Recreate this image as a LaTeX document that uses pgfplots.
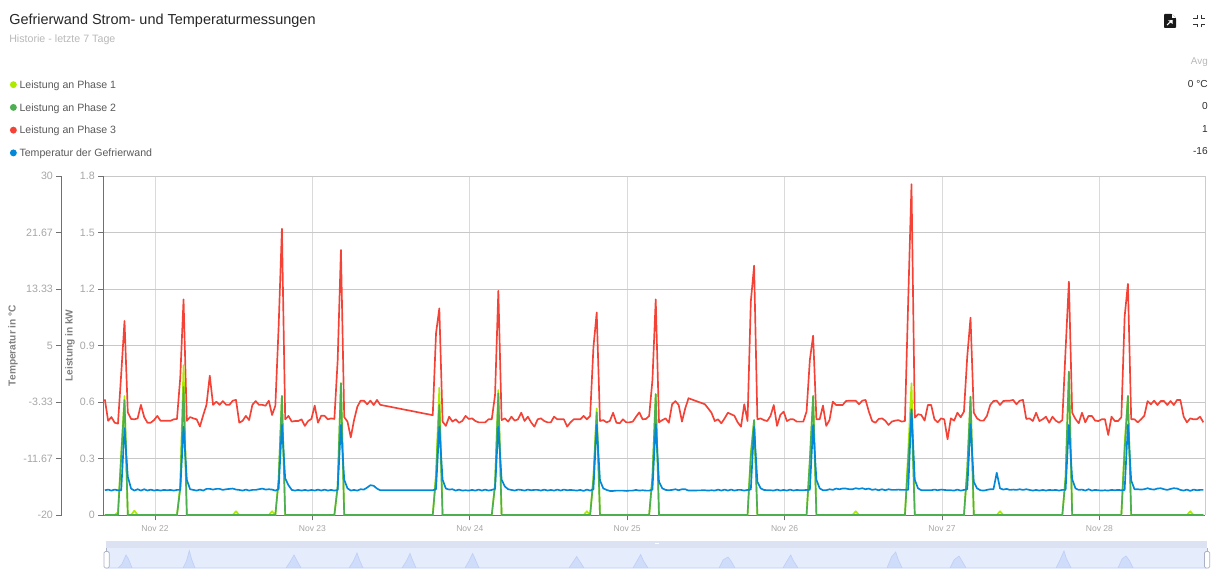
\documentclass[border=0pt]{standalone}
\usepackage{fontspec}
\setmainfont{Liberation Sans}
\usepackage{pgfplots}
\usepackage{pgfplotstable}
\pgfplotsset{compat=1.18}
\definecolor{clime}{HTML}{AEEA00}
\definecolor{cgreen}{HTML}{4CAF50}
\definecolor{cred}{HTML}{F44336}
\definecolor{cblue}{HTML}{0288D9}
\definecolor{tickgray}{HTML}{A6A6A6}
\definecolor{axisgray}{HTML}{707070}
\definecolor{navbg}{HTML}{E5ECFB}
\definecolor{navtop}{HTML}{DCE2F1}
\definecolor{navfill}{HTML}{CFDCFA}
\definecolor{navline}{HTML}{BFD0F7}
\definecolor{navhandle}{HTML}{AAB2C4}
\definecolor{gridx}{HTML}{DADADA}
\definecolor{gridy}{HTML}{C8C8C8}
\definecolor{gridr}{HTML}{CCCCCC}
% t = half-hour slots since Nov 22 00:00; p1,p2,p3 in kW; temp in deg C
\pgfplotstableread{
t p1 p2 p3 temp
-15.3 0 0 .614 -16.35
-14.3 0 0 .50 -16.25
-13.3 0 0 .52 -16.4
-12.3 0 0 .49 -16.25
-11.3 .015 0 .485 -16.35
-10.3 .33 .31 .75 -16.35
-9.3 .632 .61 1.03 -7.2
-8.3 0 0 .545 -14.35
-7.3 0 0 .51 -16.1
-6.3 .023 0 .508 -16.4
-5.3 0 0 .513 -16.2
-4.3 0 0 .585 -16.4
-3.3 0 0 .52 -16.2
-2.3 0 0 .49 -16.4
-1.3 0 0 .49 -16.25
-.3 0 0 .504 -16.4
.7 0 0 .526 -16.3
1.7 0 0 .50 -16.4
2.7 0 0 .50 -16.3
3.7 0 0 .50 -16.35
4.7 0 0 .50 -16.3
5.7 0 0 .508 -16.4
6.7 0 0 .51 -16.3
7.7 .16 .14 .73 -16.3
8.7 .796 .68 1.145 -7.0
9.7 0 0 .50 -14.8
10.7 0 0 .52 -16.2
11.7 0 0 .513 -16.3
12.7 0 0 .508 -16.4
13.7 0 0 .47 -16.25
14.7 0 0 .53 -16.4
15.7 0 0 .585 -16.15
16.7 0 0 .74 -16.15
17.7 0 0 .585 -16.25
18.7 0 0 .602 -16.15
19.7 0 0 .585 -16.15
20.7 0 0 .605 -16.3
21.7 0 0 .585 -16.2
22.7 0 0 .585 -16.15
23.7 0 0 .607 -16.1
24.7 .02 0 .611 -16.25
25.7 0 0 .49 -16.3
26.7 0 0 .50 -16.4
27.7 0 0 .526 -16.25
28.7 0 0 .504 -16.4
29.7 0 0 .585 -16.3
30.7 0 0 .605 -16.3
31.7 0 0 .585 -16.2
32.7 0 0 .585 -16.1
33.7 0 0 .58 -16.25
34.7 0 0 .607 -16.2
35.7 .02 0 .531 -16.25
36.7 0 0 .58 -16.4
37.7 .186 .186 1.0 -16.2
38.7 .632 .632 1.52 -6.7
39.7 0 0 .508 -14.6
40.7 0 0 .526 -15.6
41.7 0 0 .496 -16.3
42.7 0 0 .499 -16.4
43.7 0 0 .499 -16.3
44.7 0 0 .508 -16.4
45.7 0 0 .473 -16.3
46.7 0 0 .499 -16.4
47.7 0 0 .51 -16.3
48.7 0 0 .581 -16.4
49.7 0 0 .49 -16.25
50.7 0 0 .527 -16.4
51.7 0 0 .527 -16.25
52.7 0 0 .508 -16.4
53.7 0 0 .513 -16.3
54.7 0 0 .51 -16.4
55.7 .15 .15 .82 -16.3
56.7 .70 .70 1.407 -6.7
57.7 0 0 .52 -14.8
58.7 0 0 .496 -16.07
59.7 0 0 .412 -16.4
60.7 0 0 .504 -16.3
61.7 0 0 .575 -16.4
62.7 0 0 .607 -16.2
63.7 0 0 .607 -16.25
64.7 0 0 .588 -15.95
65.7 0 0 .607 -15.6
66.7 0 0 .584 -15.7
67.7 0 0 .611 -16.1
68.7 0 0 .585 -16.35
84.7 0 0 .53 -16.35
85.7 .22 .20 .965 -16.2
86.7 .676 .584 1.097 -7.0
87.7 0 0 .496 -14.8
88.7 0 0 .473 -16.1
89.7 0 0 .522 -16.25
90.7 0 0 .496 -16.2
91.7 0 0 .508 -16.4
92.7 0 0 .49 -16.25
93.7 0 0 .499 -16.4
94.7 0 0 .526 -16.35
95.7 0 0 .51 -16.4
96.7 0 0 .513 -16.3
97.7 0 0 .499 -16.4
98.7 0 0 .492 -16.25
99.7 0 0 .492 -16.4
100.7 0 0 .492 -16.25
101.7 0 0 .508 -16.4
102.7 0 0 .508 -16.3
103.7 .16 .16 .637 -16.15
104.7 .664 .646 1.19 -7.0
105.7 0 0 .504 -14.8
106.7 0 0 .513 -15.8
107.7 0 0 .496 -16.2
108.7 0 0 .522 -16.3
109.7 0 0 .501 -16.4
110.7 0 0 .508 -16.25
111.7 0 0 .543 -16.3
112.7 0 0 .499 -16.4
113.7 0 0 .522 -16.25
114.7 0 0 .492 -16.35
115.7 0 0 .469 -16.3
116.7 0 0 .508 -16.3
117.7 0 0 .513 -16.4
118.7 0 0 .499 -16.25
119.7 0 0 .492 -16.4
120.7 0 0 .492 -16.3
121.7 0 0 .522 -16.4
122.7 0 0 .508 -16.25
123.7 0 0 .508 -16.4
124.7 0 0 .508 -16.25
125.7 0 0 .469 -16.35
126.7 0 0 .492 -16.3
127.7 0 0 .508 -16.35
128.7 0 0 .508 -16.4
129.7 0 0 .508 -16.3
130.7 0 0 .526 -16.45
131.7 .02 0 .508 -16.25
132.7 0 0 .526 -16.4
133.7 .20 .19 .89 -16.2
134.7 .566 .545 1.075 -6.7
135.7 0 0 .499 -14.9
136.7 0 0 .504 -16.07
137.7 0 0 .492 -16.3
138.7 0 0 .499 -16.45
139.7 0 0 .543 -16.45
140.7 0 0 .49 -16.4
141.7 0 0 .487 -16.4
142.7 0 0 .508 -16.4
143.7 0 0 .492 -16.45
144.7 0 0 .492 -16.4
145.7 0 0 .496 -16.4
146.7 0 0 .522 -16.3
147.7 0 0 .545 -16.4
148.7 0 0 .508 -16.35
149.7 0 0 .51 -16.4
150.7 0 0 .526 -16.4
151.7 .2 .2 .717 -16.25
152.7 .642 .642 1.145 -6.6
153.7 0 0 .492 -15.1
154.7 0 0 .504 -16.07
155.7 0 0 .513 -16.3
156.7 0 0 .49 -16.35
157.7 0 0 .588 -16.3
158.7 0 0 .605 -16.2
159.7 0 0 .584 -16.35
160.7 0 0 .496 -16.2
161.7 0 0 .566 -16.2
162.7 0 0 .62 -16.4
167.7 0 0 .588 -16.35
168.7 0 0 .566 -16.4
169.7 0 0 .543 -16.35
170.7 0 0 .499 -16.4
171.7 0 0 .508 -16.25
172.7 0 0 .487 -16.4
173.7 0 0 .513 -16.25
174.7 0 0 .543 -16.4
175.7 0 0 .535 -16.25
176.7 0 0 .527 -16.4
177.7 0 0 .492 -16.3
178.7 0 0 .469 -16.3
179.7 0 0 .588 -16.4
180.7 0 0 .499 -16.3
181.7 .33 .31 1.133 -16.25
182.7 .504 .504 1.324 -7.0
183.7 0 0 .508 -15.1
184.7 0 0 .513 -16.07
185.7 0 0 .504 -16.3
186.7 0 0 .499 -16.35
187.7 0 0 .526 -16.35
188.7 0 0 .584 -16.4
189.7 0 0 .473 -16.25
190.7 0 0 .531 -16.4
191.7 0 0 .549 -16.3
192.7 0 0 .499 -16.4
193.7 0 0 .508 -16.25
194.7 0 0 .508 -16.4
195.7 0 0 .496 -16.3
196.7 0 0 .496 -16.35
197.7 0 0 .496 -16.35
198.7 0 0 .549 -16.3
199.7 .29 .29 .823 -16.3
200.7 .632 .632 .952 -6.7
201.7 0 0 .508 -14.8
202.7 0 0 .508 -16.07
203.7 0 0 .581 -16.35
204.7 0 0 .473 -16.35
205.7 0 0 .504 -16.2
206.7 0 0 .602 -16.3
207.7 0 0 .584 -16.1
208.7 0 0 .584 -16.2
209.7 0 0 .584 -16.1
210.7 0 0 .605 -16.1
211.7 0 0 .607 -16.2
212.7 0 0 .607 -16.2
213.7 .02 0 .607 -16.05
214.7 0 0 .588 -16.15
215.7 0 0 .607 -16.05
216.7 0 0 .611 -16.2
217.7 0 0 .549 -16.1
218.7 0 0 .499 -16.3
219.7 0 0 .49 -16.2
220.7 0 0 .51 -16.35
221.7 0 0 .513 -16.2
222.7 0 0 .501 -16.35
223.7 0 0 .478 -16.2
224.7 0 0 .496 -16.3
225.7 0 0 .501 -16.3
226.7 0 0 .504 -16.25
227.7 0 0 .496 -16.3
228.7 0 0 .499 -16.3
229.7 .34 .29 1.14 -16.3
230.7 .70 .557 1.757 -4.4
231.7 0 0 .517 -14.8
232.7 0 0 .535 -16.07
233.7 0 0 .531 -16.35
234.7 0 0 .501 -16.35
235.7 0 0 .584 -16.35
236.7 0 0 .584 -16.35
237.7 0 0 .508 -16.25
238.7 0 0 .492 -16.35
239.7 0 0 .513 -16.25
240.7 0 0 .508 -16.3
241.7 0 0 .402 -16.35
242.7 0 0 .513 -16.35
243.7 0 0 .501 -16.4
244.7 0 0 .543 -16.25
245.7 0 0 .519 -16.4
246.7 0 0 .549 -16.3
247.7 .24 .24 .84 -16.2
248.7 .628 .628 1.048 -6.6
249.7 0 0 .543 -15.1
250.7 0 0 .513 -16.07
251.7 0 0 .501 -16.35
252.7 0 0 .501 -16.4
253.7 0 0 .526 -16.3
254.7 0 0 .584 -16.2
255.7 0 0 .605 -16.2
256.7 0 0 .607 -13.76
257.7 .02 0 .584 -16.07
258.7 0 0 .605 -16.25
259.7 0 0 .607 -16.15
260.7 0 0 .607 -16.3
261.7 0 0 .611 -16.25
262.7 0 0 .588 -16.3
263.7 0 0 .607 -16.2
264.7 0 0 .611 -16.3
265.7 0 0 .51 -16.2
266.7 0 0 .513 -16.3
267.7 0 0 .499 -16.4
268.7 0 0 .543 -16.3
269.7 0 0 .499 -16.4
270.7 0 0 .508 -16.3
271.7 0 0 .522 -16.4
272.7 0 0 .49 -16.3
273.7 0 0 .522 -16.35
274.7 0 0 .501 -16.3
275.7 0 0 .49 -16.4
276.7 0 0 .504 -16.3
277.7 .2 .2 .88 -16.3
278.7 .761 .761 1.239 -6.7
279.7 0 0 .543 -14.7
280.7 0 0 .51 -16.07
281.7 0 0 .487 -16.3
282.7 0 0 .543 -16.25
283.7 0 0 .492 -16.4
284.7 0 0 .526 -16.2
285.7 0 0 .526 -16.4
286.7 0 0 .501 -16.3
287.7 0 0 .499 -16.35
288.7 0 0 .508 -16.4
289.7 0 0 .508 -16.35
290.7 0 0 .425 -16.4
291.7 0 0 .522 -16.3
292.7 0 0 .499 -16.35
293.7 0 0 .499 -16.3
294.7 0 0 .519 -16.35
295.7 .38 .34 1.053 -16.3
296.7 .632 .632 1.227 -6.7
297.7 0 0 .508 -14.9
298.7 0 0 .508 -16.2
299.7 0 0 .492 -16.2
300.7 0 0 .508 -16.25
301.7 0 0 .527 -16.2
302.7 0 0 .605 -16.05
303.7 0 0 .588 -16.2
304.7 0 0 .607 -16.25
305.7 0 0 .584 -16.1
306.7 0 0 .605 -16.05
307.7 0 0 .605 -16.2
308.7 0 0 .584 -16.3
309.7 0 0 .605 -16.15
310.7 0 0 .584 -16.05
311.7 0 0 .611 -16.1
312.7 0 0 .611 -16.3
313.7 0 0 .522 -16.4
314.7 0 0 .492 -16.25
315.7 .02 0 .513 -16.45
316.7 0 0 .508 -16.25
317.7 0 0 .508 -16.35
318.7 0 0 .522 -16.3
319.7 0 0 .492 -16.3
}\datatable
\begin{document}
\begin{tikzpicture}[x=.75pt,y=.75pt,font=\fontsize{7.8pt}{9pt}\selectfont]
\path[use as bounding box] (0,0) rectangle (1218,568);
% header
\node[anchor=west,inner sep=0pt,text=black!85,font=\fontsize{10.85pt}{12pt}\selectfont] at (9,546.8) {Gefrierwand Strom- und Temperaturmessungen};
\node[anchor=west,inner sep=0pt,text=black!28,font=\fontsize{8pt}{9pt}\selectfont] at (9,528) {Historie - letzte 7 Tage};
\node[anchor=east,inner sep=0pt,text=black!28,font=\fontsize{7.4pt}{9pt}\selectfont] at (1208,506) {Avg};
\foreach \yy/\vv in {484/0 °C,461.5/0,439/1,416.5/-16}
  \node[anchor=east,inner sep=0pt,text=black!82,font=\fontsize{7.6pt}{9pt}\selectfont] at (1208,\yy) {\vv};
% icons
\fill[black!90,rounded corners=.6pt] (1164,554) -- (1164,540) -- (1176,540) -- (1176,550) -- (1172,554) -- cycle;
\fill[white] (1172,554) -- (1176,550) -- (1172,550) -- cycle;
\draw[white,line width=.8pt] (1167,543) -- (1172,547.5);
\fill[white] (1168.2,547.5) -- (1172.5,548) -- (1172.5,544) -- cycle;
\draw[black!80,line width=.7pt] (1193,543.5) -- (1197,543.5) -- (1197,540.5)
 (1201,540.5) -- (1201,543.5) -- (1204.5,543.5)
 (1204.5,549.5) -- (1201,549.5) -- (1201,553) (1197,553) -- (1197,549.5) -- (1193,549.5);
% navigator
\fill[navbg] (106,0) rectangle (1207,20);
\fill[navtop] (106,20) rectangle (1207,27);
\fill[white] (655,24) rectangle (659,25);
\begin{axis}[at={(79.5pt,0pt)},anchor=south west,scale only axis,width=825.75pt,height=15pt,
  xmin=106,xmax=1207,ymin=0,ymax=20,hide axis,clip=true]
\addplot[fill=navfill,draw=navline,line width=.5pt] coordinates {
(106,0)(118,0)(122,4)(126,13)(128.5,9)(132,0)(183,0)(186.5,7)(189.3,17.3)(191.5,9)(195,0)(286,0)(290,6)(294,13)(296.5,8)(301,0)
(349,0)(353.5,7)(357,15)(359.5,8)(363,0)(402,0)(406.5,7)(410,14.5)(412.5,8)(416,0)(465,0)(469,7)(472.7,14.5)(475.5,8)(479,0)
(569,0)(573,6)(576.7,11.5)(579.5,7)(584,0)(633,0)(637,7)(640.7,13.5)(643.5,7)(648,0)(719,0)(723,8)(728,11)(731,7)(735,0)
(783,0)(787,7)(790.7,13)(793.5,7)(798,0)(887,0)(891.5,11)(895.7,16)(898,9)(902,0)(950,0)(954,8)(959,12)(962,7)(966,0)
(1056,0)(1060,8)(1064,17)(1066.5,9)(1071,0)(1118,0)(1122,9)(1126,12)(1129,8)(1133,0)(1207,0)
} \closedcycle;
\end{axis}
\foreach \hx in {104,1204.5}{
  \draw[navhandle,fill=white,rounded corners=1pt,line width=.5pt] (\hx,0) rectangle ++(5.2,16.5);
  \draw[navhandle,line width=.5pt] (\hx+2.6,16.5) -- ++(0,4);
}
% power axis
\begin{axis}[at={(77.625pt,39.75pt)},anchor=south west,scale only axis,width=826.1pt,height=254.25pt,
  xmin=-15.71,xmax=320.2,ymin=0,ymax=1.8,clip=false,
  axis x line*=bottom,axis y line*=left,
  axis line style={axisgray,line width=.7pt,-},
  xtick={0,48,96,144,192,240,288},
  xticklabels={Nov 22,Nov 23,Nov 24,Nov 25,Nov 26,Nov 27,Nov 28},
  ytick={0,.3,.6,.9,1.2,1.5,1.8},
  yticklabels={0,0.3,0.6,0.9,1.2,1.5,1.8},
  /pgf/number format/assume math mode=true,
  tick align=outside,major tick length=4pt,
  tick style={axisgray,line width=.6pt},
  xticklabel style={font=\fontsize{6.4pt}{8pt}\selectfont,text=tickgray,yshift=0pt},
  yticklabel style={font=\fontsize{8pt}{9pt}\selectfont,text=tickgray,xshift=1pt},
  xmajorgrids,ymajorgrids,
  x grid style={gridx,line width=.6pt},
  y grid style={gridy,line width=.7pt},
  ylabel={Leistung in kW},
  ylabel style={at={(axis description cs:-0.0304,0.5)},anchor=center,font=\fontsize{7.6pt}{9pt}\bfseries\selectfont,text=black!50},
  legend style={at={(axis description cs:-0.0852,1.29)},anchor=north west,draw=none,fill=none,inner sep=0pt,
    row sep=5.8pt,font=\fontsize{7.95pt}{9pt}\selectfont,text=black!65,
    /tikz/every even column/.append style={column sep=1.2pt}},
  legend cell align=left,
  legend image code/.code={\fill[#1,draw=none] (0pt,.6pt) circle (2.6pt);},
  after end axis/.code={\draw[gridr,line width=.7pt] (rel axis cs:1,0) -- (rel axis cs:1,1);}
]
\addlegendimage{color=clime}\addlegendentry{Leistung an Phase 1}
\addlegendimage{color=cgreen}\addlegendentry{Leistung an Phase 2}
\addlegendimage{color=cred}\addlegendentry{Leistung an Phase 3}
\addlegendimage{color=cblue}\addlegendentry{Temperatur der Gefrierwand}
\addplot[cred,line width=1.25pt,line join=round,forget plot] table[x=t,y=p3] {\datatable};
\addplot[clime,line width=1.25pt,line join=round,forget plot] table[x=t,y=p1] {\datatable};
\addplot[cgreen,line width=1.25pt,line join=round,forget plot] table[x=t,y=p2] {\datatable};
\end{axis}
% temperature axis
\begin{axis}[at={(77.625pt,39.75pt)},anchor=south west,scale only axis,width=826.1pt,height=254.25pt,
  xmin=-15.71,xmax=320.2,ymin=-20,ymax=30,clip=false,
  axis x line=none,axis y line=left,axis y line shift=31.4pt,
  axis line style={axisgray,line width=.7pt,-},
  ytick={-20,-11.67,-3.33,5,13.33,21.67,30},
  yticklabels={-20,-11.67,-3.33,5,13.33,21.67,30},
  /pgf/number format/assume math mode=true,
  tick align=outside,major tick length=4pt,
  tick style={axisgray,line width=.6pt},
  yticklabel style={font=\fontsize{8pt}{9pt}\selectfont,text=tickgray,xshift=1pt},
  ylabel={Temperatur in °C},
  ylabel style={at={(axis description cs:-0.0822,0.5)},anchor=center,font=\fontsize{7.6pt}{9pt}\bfseries\selectfont,text=black!50}
]
\addplot[cblue,line width=1.25pt,line join=round] table[x=t,y=temp] {\datatable};
\end{axis}
\end{tikzpicture}
\end{document}
